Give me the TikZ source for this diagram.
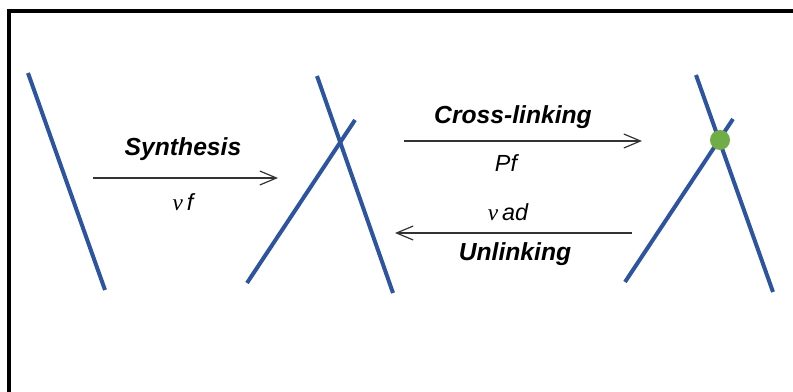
\documentclass[tikz,border=0pt]{standalone}
\usepackage{fontspec}
\setmainfont{Liberation Sans}
\newfontfamily\greekfont{Liberation Serif}
\usetikzlibrary{arrows.meta}
\definecolor{strand}{RGB}{45,84,158}
\definecolor{link}{RGB}{112,173,71}
\tikzset{
  fiber/.style={draw=strand,line width=3pt,line cap=butt},
  react/.style={draw=black!80,line width=0.9pt,-{Straight Barb[length=12.5pt,width=10.5pt,line width=0.9pt]}},
  title/.style={font=\fontsize{18.5}{20}\selectfont\bfseries\itshape,inner sep=0pt},
  rate/.style={font=\fontsize{17.5}{19}\selectfont\itshape,inner sep=0pt},
}
\newcommand{\nuc}{{\greekfont\itshape ν}}
\begin{document}
\begin{tikzpicture}[x=0.75pt,y=-0.75pt]
\useasboundingbox (0,0) rectangle (793,392);
% frame
\coordinate (fA) at (9,392);
\coordinate (fB) at (9,11);
\coordinate (fC) at (793,11);
\draw[line width=2.5pt,line join=miter] (fA) -- (fB) -- (fC);
% strand 1
\coordinate (s1a) at (28,73);
\coordinate (s1b) at (105,290);
\draw[fiber] (s1a) -- (s1b);
% strands 2
\coordinate (s2a) at (317,76);
\coordinate (s2b) at (393,293);
\coordinate (s3a) at (355,120);
\coordinate (s3b) at (247,283);
\draw[fiber] (s2a) -- (s2b);
\draw[fiber] (s3a) -- (s3b);
% strands 3
\coordinate (s4a) at (696,75);
\coordinate (s4b) at (773,292);
\coordinate (s5a) at (733,119);
\coordinate (s5b) at (625,282);
\draw[fiber] (s4a) -- (s4b);
\draw[fiber] (s5a) -- (s5b);
\node[circle,fill=link,minimum size=15pt,inner sep=0pt] (xl) at (720,140) {};
% arrows
\coordinate (a1s) at (93,178);
\coordinate (a1e) at (278,178);
\draw[react] (a1s) -- (a1e);
\node[title] (syn) at (183,149) {Synthesis};
\node[rate] (vf) at (183,202) {\nuc\,f};
\coordinate (a2s) at (404,141);
\coordinate (a2e) at (642,141);
\draw[react] (a2s) -- (a2e);
\node[title] (cl) at (513,117) {Cross-linking};
\node[rate] (pf) at (506,163) {Pf};
\coordinate (a3s) at (632,233);
\coordinate (a3e) at (395,233);
\draw[react] (a3s) -- (a3e);
\node[rate] (vad) at (508,212) {\nuc\,ad};
\node[title] (ul) at (515,254) {Unlinking};
\end{tikzpicture}
\end{document}
